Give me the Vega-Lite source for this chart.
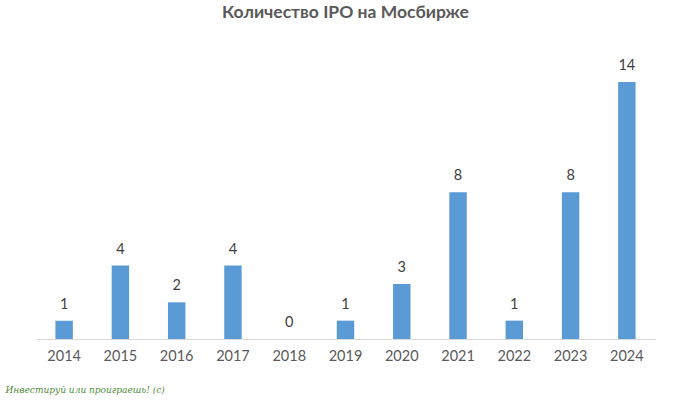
{
  "$schema": "https://vega.github.io/schema/vega-lite/v6.json",
  "autosize": "none",
  "width": 619,
  "height": 257,
  "padding": {"left": 36, "top": 82, "right": 45, "bottom": 61},
  "background": "white",
  "title": {
    "text": "Количество IPO на Мосбирже",
    "font": "Lato",
    "fontSize": 17.5,
    "fontWeight": "bold",
    "color": "#595959",
    "anchor": "middle",
    "frame": "group",
    "offset": 37
  },
  "data": {
    "values": [
      {"year": "2014", "ipo": 1},
      {"year": "2015", "ipo": 4},
      {"year": "2016", "ipo": 2},
      {"year": "2017", "ipo": 4},
      {"year": "2018", "ipo": 0},
      {"year": "2019", "ipo": 1},
      {"year": "2020", "ipo": 3},
      {"year": "2021", "ipo": 8},
      {"year": "2022", "ipo": 1},
      {"year": "2023", "ipo": 8},
      {"year": "2024", "ipo": 14}
    ]
  },
  "encoding": {
    "x": {
      "field": "year",
      "type": "ordinal",
      "scale": {"paddingInner": 0.69, "paddingOuter": 0.345},
      "axis": {
        "title": "Инвестируй или проиграешь! (с)",
        "titleFont": "DejaVu Serif",
        "titleFontStyle": "italic",
        "titleFontWeight": "normal",
        "titleFontSize": 9,
        "titleColor": "#4f8a3c",
        "titleAnchor": "start",
        "titleAlign": "left",
        "titleX": -31,
        "titleY": 46,
        "labelAngle": 0,
        "labelFont": "Lato",
        "labelFontSize": 14.5,
        "labelColor": "#595959",
        "labelPadding": 10,
        "ticks": false,
        "domainColor": "#d9d9d9",
        "domainWidth": 1
      }
    },
    "y": {
      "field": "ipo",
      "type": "quantitative",
      "scale": {"domain": [0, 14], "nice": false},
      "axis": null
    }
  },
  "layer": [
    {"mark": {"type": "bar", "color": "#5b9bd5"}},
    {
      "mark": {
        "type": "text",
        "baseline": "bottom",
        "dy": -9,
        "font": "Lato",
        "fontSize": 14.5,
        "color": "#404040"
      },
      "encoding": {"text": {"field": "ipo", "type": "quantitative"}}
    }
  ],
  "config": {"view": {"stroke": null}}
}
